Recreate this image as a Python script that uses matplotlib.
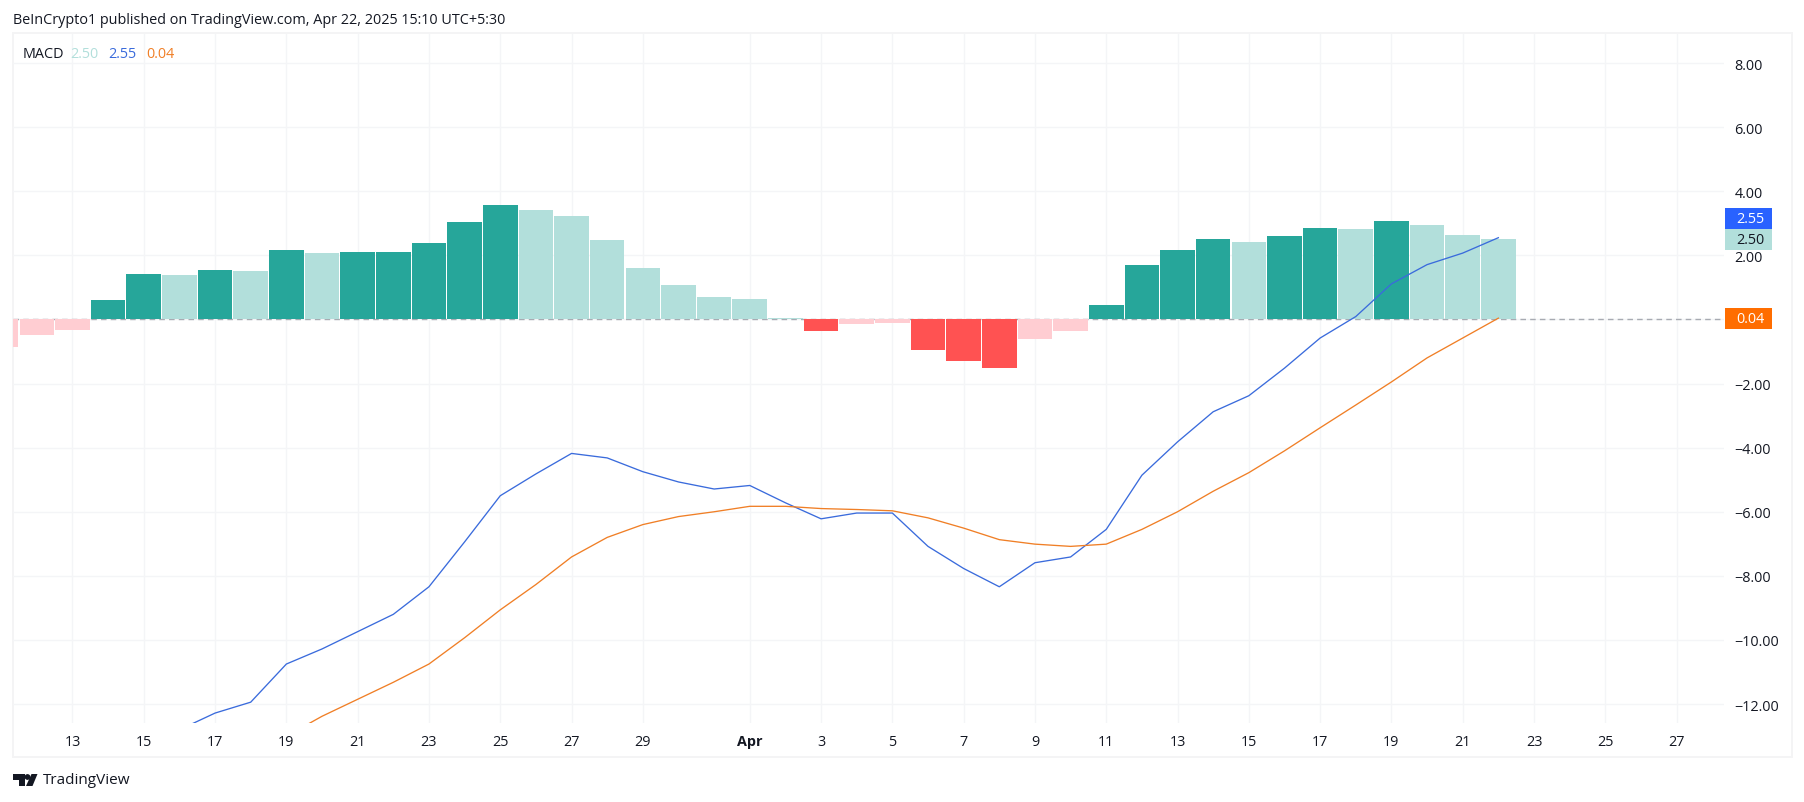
"""MACD panel, daily bars, 12 Mar - 22 Apr 2025."""
from __future__ import annotations

import matplotlib
matplotlib.use("Agg")
import matplotlib.pyplot as plt
from matplotlib.patches import Circle, Polygon, Rectangle
from matplotlib.transforms import Affine2D
import numpy as np

W, H = 1804, 803

# x positions are days counted from 13 March
HIST_DAYS = list(range(-2, 41))
HIST_VALUES = [
    -0.85, -0.50, -0.33, 0.60, 1.42, 1.38, 1.54, 1.50, 2.17, 2.07, 2.10,
    2.11, 2.39, 3.04, 3.57, 3.40, 3.23, 2.48, 1.61, 1.08, 0.70, 0.64,
    0.03, -0.36, -0.13, -0.11, -0.95, -1.30, -1.51, -0.61, -0.36, 0.45,
    1.70, 2.17, 2.51, 2.42, 2.60, 2.85, 2.82, 3.07, 2.95, 2.64, 2.50,
]
MACD_DAYS = list(range(3, 41))
MACD_VALUES = [
    -12.80, -12.28, -11.94, -10.75, -10.28, -9.74, -9.20, -8.34, -6.94,
    -5.50, -4.82, -4.18, -4.32, -4.75, -5.07, -5.29, -5.18, -5.72, -6.22,
    -6.04, -6.04, -7.08, -7.77, -8.34, -7.59, -7.41, -6.55, -4.86, -3.82,
    -2.88, -2.38, -1.52, -0.58, 0.09, 1.11, 1.71, 2.07, 2.55,
]
SIGNAL_DAYS = list(range(6, 41))
SIGNAL_VALUES = [
    -13.00, -12.38, -11.85, -11.32, -10.75, -9.93, -9.06, -8.27, -7.41,
    -6.80, -6.40, -6.15, -6.00, -5.83, -5.83, -5.90, -5.93, -5.97, -6.19,
    -6.51, -6.87, -7.01, -7.08, -7.01, -6.55, -6.00, -5.36, -4.78, -4.10,
    -3.38, -2.67, -1.95, -1.20, -0.58, 0.04,
]

X_TICKS = [0, 2, 4, 6, 8, 10, 12, 14, 16, 19, 21, 23, 25, 27, 29, 31, 33, 35,
           37, 39, 41, 43, 45]
X_LABELS = ["13", "15", "17", "19", "21", "23", "25", "27", "29", "Apr", "3",
            "5", "7", "9", "11", "13", "15", "17", "19", "21", "23", "25", "27"]
Y_TICKS = [8, 6, 4, 2, 0, -2, -4, -6, -8, -10, -12]

TEAL, TEAL_LIGHT = "#26a69a", "#b2dfdb"
RED, RED_LIGHT = "#ff5252", "#ffcdd2"
BLUE, ORANGE = "#2962ff", "#ff6d00"
LINE_BLUE, LINE_ORANGE = "#3a6bdc", "#f07f26"
GRID = "#f4f5f7"
TEXT = "#131722"
FONT = 10.4

plt.rcParams["font.family"] = ["Open Sans", "DejaVu Sans"]


def hist_colors(values):
    # same rule as the TradingView histogram: shade follows the day-on-day move
    colors = []
    prev = values[0]
    for v in values:
        if v >= 0:
            colors.append(TEAL if v > prev else TEAL_LIGHT)
        else:
            colors.append(RED if v < prev else RED_LIGHT)
        prev = v
    return colors


fig = plt.figure(figsize=(W / 100, H / 100), dpi=100, facecolor="white")
# chrome is laid out in reference pixels, origin top left
PIXELS = Affine2D().scale(1 / W, -1 / H).translate(0, 1) + fig.transFigure

fig.add_artist(Rectangle((13, 34), 1779, 724, transform=PIXELS, facecolor="white",
                         edgecolor="#f4f4f5", linewidth=1.4, zorder=-1))

ax = fig.add_axes([12.5 / W, (H - 724) / H, 1711.5 / W, 689 / H])
ax.patch.set_alpha(0)
ax.set_xlim(-1.683, 46.33)
ax.set_ylim(-12.59, 8.905)
for spine in ax.spines.values():
    spine.set_visible(False)

ax.grid(True, color=GRID, linewidth=1)
ax.set_axisbelow(True)
ax.axhline(0, color="#a8abb2", linewidth=1, dashes=(4, 3), zorder=1)
ax.bar(HIST_DAYS, HIST_VALUES, width=0.97, color=hist_colors(HIST_VALUES), zorder=2)
ax.plot(MACD_DAYS, MACD_VALUES, color=LINE_BLUE, linewidth=0.95, zorder=3)
ax.plot(SIGNAL_DAYS, SIGNAL_VALUES, color=LINE_ORANGE, linewidth=0.95, zorder=3)

ax.yaxis.tick_right()
ax.set_yticks(Y_TICKS)
ax.set_yticklabels([f"{v:.2f}".replace("-", "\u2212") for v in Y_TICKS],
                   fontsize=FONT, color=TEXT)
ax.set_xticks(X_TICKS)
ax.set_xticklabels(X_LABELS, fontsize=FONT, color=TEXT)
ax.tick_params(axis="both", length=0)
ax.tick_params(axis="y", pad=7.5)
ax.tick_params(axis="x", pad=8)
for lab in ax.get_xticklabels():
    if lab.get_text() == "Apr":
        lab.set_fontweight("bold")

# header and legend
fig.text(13, 20, "BeInCrypto1 published on TradingView.com, Apr 22, 2025 15:10 UTC+5:30",
         transform=PIXELS, fontsize=FONT, color=TEXT, va="center", ha="left")
for x, txt, color in [(23, "MACD", TEXT), (70, "2.50", TEAL_LIGHT),
                      (108, "2.55", LINE_BLUE), (146, "0.04", LINE_ORANGE)]:
    fig.text(x, 54, txt, transform=PIXELS, fontsize=FONT, color=color, va="center", ha="left")

# last-value tags on the price scale
for y0, y1, fill, fg, txt in [(209, 230, BLUE, "white", "2.55"),
                              (230, 251, TEAL_LIGHT, TEXT, "2.50"),
                              (309, 330, ORANGE, "white", "0.04")]:
    fig.add_artist(Rectangle((1725, y0), 47, y1 - y0, transform=PIXELS,
                             facecolor=fill, edgecolor="none", zorder=5))
    fig.text(1736, (y0 + y1) / 2, txt, transform=PIXELS, fontsize=FONT, color=fg,
             va="center", ha="left", zorder=6)

# footer logo
for patch in [
    Polygon([(13, 775), (25, 775), (25, 787), (19, 787), (19, 781), (13, 781)]),
    Circle((27.5, 778), 2.9),
    Polygon([(31.5, 775), (37.5, 775), (32.5, 787), (26, 787)]),
]:
    patch.set(transform=PIXELS, facecolor=TEXT, edgecolor="none")
    fig.add_artist(patch)
fig.text(43, 781, "TradingView", transform=PIXELS, fontsize=11, color=TEXT,
         va="center", ha="left")

fig.savefig("out.png", dpi=100, facecolor="white")
